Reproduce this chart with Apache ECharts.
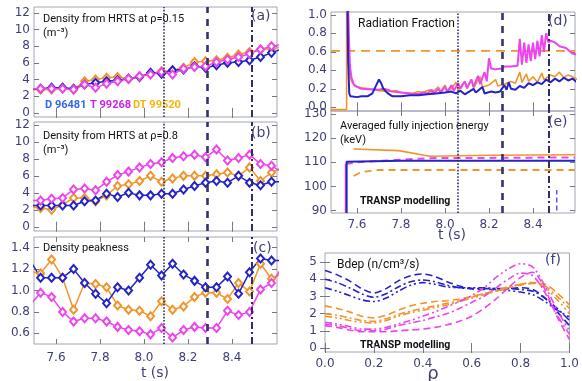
<!DOCTYPE html>
<html>
<head>
<meta charset="utf-8">
<script src="https://cdn.jsdelivr.net/npm/echarts@6/dist/echarts.min.js"></script>
<style>
html, body { margin: 0; padding: 0; background: #fff; }
#chart { width: 582px; height: 381px; }
</style>
</head>
<body>
<div id="chart"></div>
<script>
// time base of the HRTS profiles (s); first and last points sit just outside the frame
const tHrts = [7.48, 7.53, 7.58, 7.63, 7.68, 7.73, 7.78, 7.83, 7.88, 7.93, 7.98, 8.03,
  8.08, 8.13, 8.18, 8.23, 8.28, 8.33, 8.38, 8.43, 8.48, 8.53, 8.58, 8.63];

// (a) density at rho=0.15
const dA = [2.85, 2.9, 3.0, 3.0, 2.9, 3.4, 3.6, 3.8, 3.9, 4.1, 4.3, 4.8, 4.7, 5.1, 5.2, 5.6, 5.4, 5.7, 6.0, 6.1, 6.3, 6.7, 7.2, 7.7];
const tA = [2.9, 2.9, 2.9, 2.9, 2.8, 3.4, 3.0, 3.5, 3.8, 4.1, 4.4, 4.6, 4.9, 4.6, 5.3, 5.5, 5.6, 6.1, 6.4, 6.7, 7.1, 7.6, 8.0, 8.2];
const dtA = [2.8, 2.8, 2.8, 3.0, 2.8, 3.8, 4.0, 4.2, 4.3, 4.1, 4.4, 4.7, 5.0, 5.1, 5.4, 6.1, 6.2, 6.3, 6.6, 7.0, 7.3, 7.6, 7.7, 7.9];

// (b) density at rho=0.8
const dB = [2.5, 2.5, 2.5, 2.5, 2.5, 3.0, 3.1, 3.9, 3.5, 4.0, 3.7, 3.7, 3.9, 3.9, 4.4, 4.8, 5.2, 5.4, 5.2, 6.0, 5.2, 4.9, 5.3, 5.3];
const tB = [3.1, 3.1, 3.3, 3.4, 4.4, 4.5, 4.3, 5.3, 6.1, 6.5, 7.0, 7.4, 7.6, 8.1, 8.3, 8.5, 8.2, 9.1, 7.8, 8.1, 8.5, 7.4, 7.2, 6.4];
const dtB = [2.4, 2.2, 2.0, 2.6, 3.4, 3.4, 3.0, 3.7, 4.8, 5.0, 5.4, 6.0, 5.3, 5.7, 6.0, 6.0, 6.0, 6.2, 6.4, 6.0, 7.0, 5.4, 6.4, 7.0];

// (c) density peakness
const dC = [1.29, 1.12, 1.12, 1.12, 1.20, 1.07, 0.97, 0.88, 1.03, 1.00, 1.12, 1.24, 1.14, 1.25, 1.15, 1.09, 1.03, 1.03, 1.13, 0.97, 1.17, 1.30, 1.28, 1.28];
const tC = [0.86, 0.98, 0.94, 0.80, 0.71, 0.74, 0.74, 0.71, 0.66, 0.63, 0.62, 0.59, 0.65, 0.56, 0.63, 0.66, 0.65, 0.65, 0.81, 0.77, 0.80, 1.01, 1.07, 1.22];
const dtC = [1.18, 1.16, 1.29, 1.12, 0.82, 1.07, 1.06, 1.03, 0.86, 0.82, 0.81, 0.76, 0.90, 0.82, 0.85, 0.94, 0.98, 0.98, 0.92, 1.07, 0.99, 1.25, 1.11, 1.16];

// (d) radiation fraction traces [t, value]
const radD = [[7.557,1.1],[7.560,0.5],[7.565,0.15],[7.57,0.12],[7.60,0.11],[7.62,0.12],[7.65,0.12],[7.67,0.15],[7.69,0.25],[7.70,0.30],[7.71,0.26],[7.72,0.20],[7.74,0.15],[7.76,0.12],[7.80,0.12],[7.84,0.13],[7.88,0.13],[7.92,0.14],[7.96,0.15],[8.00,0.16],[8.03,0.17],[8.05,0.15],[8.07,0.18],[8.09,0.14],[8.11,0.17],[8.13,0.20],[8.14,0.16],[8.17,0.22],[8.18,0.15],[8.21,0.17],[8.23,0.16],[8.25,0.17],[8.27,0.24],[8.28,0.19],[8.29,0.27],[8.30,0.20],[8.32,0.19],[8.34,0.23],[8.36,0.21],[8.38,0.26],[8.40,0.24],[8.42,0.27],[8.44,0.25],[8.46,0.30],[8.48,0.27],[8.50,0.31],[8.52,0.28],[8.54,0.32],[8.56,0.29],[8.58,0.31],[8.60,0.27]];
const radT = [[7.560,1.10],[7.563,0.80],[7.568,0.45],[7.575,0.32],[7.585,0.25],[7.60,0.22],[7.62,0.20],[7.65,0.195],[7.70,0.19],[7.72,0.20],[7.74,0.19],[7.76,0.17],[7.80,0.16],[7.84,0.15],[7.88,0.145],[7.90,0.16],[7.92,0.15],[7.94,0.19],[7.95,0.15],[7.97,0.20],[7.98,0.16],[8.00,0.22],[8.01,0.17],[8.03,0.24],[8.04,0.18],[8.06,0.26],[8.07,0.20],[8.09,0.28],[8.10,0.21],[8.12,0.30],[8.13,0.22],[8.15,0.34],[8.16,0.25],[8.18,0.38],[8.19,0.28],[8.20,0.53],[8.21,0.42],[8.23,0.41],[8.26,0.42],[8.27,0.44],[8.30,0.44],[8.33,0.45],[8.34,0.74],[8.35,0.46],[8.36,0.70],[8.37,0.48],[8.38,0.68],[8.39,0.50],[8.40,0.70],[8.41,0.52],[8.42,0.72],[8.43,0.55],[8.44,0.78],[8.45,0.60],[8.46,0.80],[8.47,0.70],[8.48,0.72],[8.50,0.70],[8.52,0.66],[8.55,0.64],[8.58,0.58],[8.60,0.57]];
const radDT = [[7.48,-0.025],[7.553,-0.025],[7.553,1.1],[7.558,0.6],[7.565,0.38],[7.575,0.28],[7.59,0.23],[7.62,0.21],[7.66,0.20],[7.70,0.18],[7.75,0.17],[7.78,0.18],[7.80,0.16],[7.85,0.15],[7.88,0.17],[7.90,0.16],[7.93,0.19],[7.94,0.16],[7.97,0.22],[7.98,0.17],[8.00,0.24],[8.01,0.18],[8.03,0.20],[8.05,0.27],[8.06,0.19],[8.09,0.28],[8.10,0.20],[8.12,0.30],[8.13,0.21],[8.16,0.33],[8.17,0.22],[8.20,0.24],[8.23,0.30],[8.24,0.23],[8.27,0.25],[8.30,0.28],[8.32,0.26],[8.34,0.38],[8.35,0.27],[8.37,0.36],[8.38,0.28],[8.40,0.33],[8.42,0.27],[8.44,0.37],[8.45,0.30],[8.48,0.35],[8.50,0.33],[8.52,0.38],[8.54,0.32],[8.56,0.35],[8.58,0.33],[8.60,0.30]];
const radLimit = [[7.482,0.61],[8.591,0.61]];

// (e) averaged full injection energy (keV)
const eD = [[7.553,89],[7.553,110.2],[7.8,110.6],[8.591,110.6]];
const eTrise = [[7.549,89],[7.549,109.3]];
const eT = [[7.549,109.3],[7.6,110],[7.75,110.8],[7.93,111.7],[8.2,111.8],[8.591,112]];
const eDT = [[7.584,115.5],[7.79,114.8],[7.93,112.5],[8.2,112.9],[8.591,113.1]];
const eDTmod = [[7.585,104.3],[7.62,106.0],[7.7,106.8],[8.591,106.8]];
const eMark = [[8.508,90],[8.508,98.5]];

// (f) beam deposition profiles vs rho
const rho = [0, 0.05, 0.1, 0.15, 0.2, 0.25, 0.3, 0.35, 0.4, 0.45, 0.5, 0.55, 0.6, 0.65, 0.7, 0.75, 0.8, 0.85, 0.9, 0.95, 1.0];
const fD1 = [4.5, 4.25, 3.9, 3.45, 3.2, 3.45, 3.9, 4.2, 4.3, 4.15, 3.85, 3.6, 3.45, 3.4, 3.4, 3.45, 3.5, 3.4, 2.9, 2.1, 1.3];
const fD2 = [4.0, 3.8, 3.5, 3.15, 2.95, 3.15, 3.55, 3.85, 3.95, 3.85, 3.65, 3.5, 3.45, 3.45, 3.45, 3.45, 3.4, 3.3, 2.9, 2.3, 1.6];
const fD3 = [3.5, 3.3, 3.05, 2.8, 2.7, 2.9, 3.3, 3.65, 3.8, 3.7, 3.55, 3.5, 3.5, 3.5, 3.45, 3.35, 3.25, 3.1, 2.7, 2.2, 1.8];
const fDT1 = [2.45, 2.3, 2.1, 1.85, 1.75, 1.9, 2.2, 2.45, 2.6, 2.7, 2.75, 2.85, 3.0, 3.15, 3.3, 3.5, 3.65, 3.75, 3.7, 3.2, 2.5];
const fDT2 = [2.0, 1.9, 1.75, 1.6, 1.55, 1.7, 1.95, 2.15, 2.3, 2.45, 2.6, 2.75, 2.95, 3.15, 3.35, 3.55, 3.7, 3.8, 3.6, 3.0, 2.3];
const fDT3 = [1.85, 1.75, 1.6, 1.5, 1.45, 1.6, 1.85, 2.05, 2.2, 2.35, 2.5, 2.7, 2.9, 3.1, 3.3, 3.5, 3.7, 3.8, 3.5, 2.8, 2.0];
const fT1 = [1.3, 1.2, 1.05, 0.95, 0.95, 0.95, 1.0, 1.05, 1.1, 1.2, 1.35, 1.55, 1.85, 2.3, 2.85, 3.5, 4.1, 4.4, 3.4, 1.8, 0.5];
const fT2 = [1.4, 1.3, 1.15, 1.0, 1.0, 1.1, 1.3, 1.45, 1.6, 1.8, 2.0, 2.3, 2.65, 3.0, 3.5, 4.0, 4.35, 4.2, 3.2, 1.9, 0.8];
const fT3 = [1.5, 1.4, 1.25, 1.1, 1.1, 1.2, 1.4, 1.6, 1.85, 2.1, 2.4, 2.7, 3.05, 3.5, 4.1, 4.6, 4.9, 4.7, 3.6, 2.2, 1.0];

// vertical time markers
const markLeft = [8.09, 8.29, 8.495];
const markRight = [8.064, 8.264, 8.468];

// tick labels
const tTicks = [7.6, 7.8, 8.0, 8.2, 8.4];
const rhoTicks = [0, 0.2, 0.4, 0.6, 0.8, 1.0];
const nTicks = [0, 2, 4, 6, 8, 10, 12];
const peakTicks = [0.6, 0.8, 1.0, 1.2, 1.4];
const radTicks = [0, 0.2, 0.4, 0.6, 0.8, 1.0];
const eTicks = [90, 100, 110, 120, 130];
const bdepTicks = [0, 1, 2, 3, 4, 5];

const BLUE = '#2323c8';
const MAGENTA = '#ee44ee';
const ORANGE = '#f0952a';
const NAVY = '#3f3f78';
const AXISFONT = 'DejaVu Sans';

const chart = echarts.init(document.getElementById('chart'));

const grids = [
  { left: 34, top: 7, width: 243, height: 110 },
  { left: 34, top: 122, width: 243, height: 109 },
  { left: 34, top: 237, width: 243, height: 107 },
  { left: 331, top: 12, width: 244, height: 99 },
  { left: 331, top: 111, width: 244, height: 102 },
  { left: 325, top: 253, width: 245, height: 99 }
].map(g => Object.assign({ show: true, borderColor: '#a4a4b4', borderWidth: 1, backgroundColor: 'transparent' }, g));

const xAxes = [];
const yAxes = [];

const axisPair = (list, gi, min, max, ticks, labels, fmt, margin, isX) => {
  const base = {
    type: 'value', gridIndex: gi, min: min, max: max, scale: true,
    axisLine: { show: false }, splitLine: { show: false }
  };
  list.push(Object.assign({}, base, {
    position: isX ? 'bottom' : 'left',
    axisTick: { show: true, inside: true, length: 5, customValues: ticks, lineStyle: { color: '#77778a' } },
    axisLabel: { show: labels, customValues: ticks, formatter: fmt, color: NAVY, fontSize: 12, fontFamily: AXISFONT, margin: margin }
  }));
  list.push(Object.assign({}, base, {
    position: isX ? 'top' : 'right',
    axisTick: { show: true, inside: true, length: 5, customValues: ticks, lineStyle: { color: '#77778a' } },
    axisLabel: { show: false }
  }));
};

const f1 = v => v.toFixed(1);
const f0 = v => String(v);

axisPair(xAxes, 0, 7.5, 8.605, tTicks, false, f1, 8, true);
axisPair(xAxes, 1, 7.5, 8.605, tTicks, false, f1, 8, true);
axisPair(xAxes, 2, 7.5, 8.605, tTicks, true, f1, 8, true);
axisPair(xAxes, 3, 7.482, 8.591, tTicks, false, f1, 8, true);
axisPair(xAxes, 4, 7.482, 8.591, tTicks, true, f1, 6, true);
axisPair(xAxes, 5, 0, 1, rhoTicks, true, f1, 6, true);

axisPair(yAxes, 0, -0.5, 12.7, nTicks, true, f0, 4, false);
axisPair(yAxes, 1, -0.5, 12.35, nTicks, true, f0, 4, false);
axisPair(yAxes, 2, 0.5, 1.5, peakTicks, true, f1, 4, false);
axisPair(yAxes, 3, -0.04, 1.03, radTicks, true, f1, 4, false);
axisPair(yAxes, 4, 89, 131.2, eTicks, true, f0, 4, false);
axisPair(yAxes, 5, -0.23, 5.52, bdepTicks, true, f0, 8, false);

const markStyles = [
  { type: 'dotted', width: 1.6, color: '#2e2e66' },
  { type: [7, 6], width: 2.6, color: '#34346e' },
  { type: [7, 3, 2, 3], width: 2, color: '#2e2e66' }
];
const vMarks = times => ({
  silent: true, symbol: ['none', 'none'], label: { show: false },
  data: times.map((t, i) => ({ xAxis: t, lineStyle: markStyles[i] }))
});

const series = [];
const hrts = (gi, vals, color, withMarks) => {
  const s = {
    type: 'line', xAxisIndex: 2 * gi, yAxisIndex: 2 * gi,
    data: tHrts.map((t, i) => [t, vals[i]]),
    symbol: 'emptyDiamond', symbolSize: [7, 8], showSymbol: true,
    lineStyle: { color: color, width: 1.5 },
    itemStyle: { color: color, borderWidth: 1.3 },
    clip: true, silent: true, animation: false, z: 3
  };
  if (withMarks) s.markLine = vMarks(markLeft);
  series.push(s);
};
[[0, dA, tA, dtA], [1, dB, tB, dtB], [2, dC, tC, dtC]].forEach(p => {
  hrts(p[0], p[3], ORANGE, false);
  hrts(p[0], p[1], BLUE, true);
  hrts(p[0], p[2], MAGENTA, false);
});

const trace = (gi, data, color, width, type, extra) => {
  series.push(Object.assign({
    type: 'line', xAxisIndex: 2 * gi, yAxisIndex: 2 * gi, data: data,
    symbol: 'none', lineStyle: { color: color, width: width, type: type || 'solid' },
    clip: true, silent: true, animation: false
  }, extra || {}));
};

// (d)
trace(3, radLimit, ORANGE, 1.6, [9, 6]);
trace(3, radDT, ORANGE, 1.6);
trace(3, radT, MAGENTA, 2);
trace(3, radD, BLUE, 2, 'solid', { markLine: vMarks(markRight) });

// (e)
trace(4, eDT, ORANGE, 1.6);
trace(4, eDTmod, ORANGE, 1.8, [7, 5]);
trace(4, eTrise, MAGENTA, 2);
trace(4, eT, MAGENTA, 2, [7, 5]);
trace(4, eD, BLUE, 2, 'solid', { markLine: vMarks(markRight) });
trace(4, eMark, '#5555ee', 1.5, [5, 3]);

// (f)
const dash = [7, 4];
const dashDot = [7, 3, 2, 3];
const dashDotDot = [7, 3, 2, 3, 2, 3];
[[fD1, BLUE, dash], [fD2, BLUE, dashDot], [fD3, BLUE, dashDotDot],
 [fDT1, ORANGE, dash], [fDT2, ORANGE, dashDot], [fDT3, ORANGE, dashDotDot],
 [fT1, MAGENTA, dash], [fT2, MAGENTA, dashDot], [fT3, MAGENTA, dashDotDot]].forEach(c => {
  trace(5, rho.map((r, i) => [r, c[0][i]]), c[1], 1.6, c[2], { smooth: 0.3 });
});

const txt = (x, y, text, font, fill, align) => ({
  type: 'text', x: x, y: y, silent: true,
  style: { text: text, font: font, fill: fill || '#111', textAlign: align || 'left', textVerticalAlign: 'middle' }
});
const titleFont = '11px Roboto';
const boldFont = 'bold 10.5px Roboto';
const panelFont = '14px ' + AXISFONT;

const graphics = [
  txt(43, 19, 'Density from HRTS at ρ=0.15', titleFont),
  txt(43, 33, '(m⁻³)', titleFont),
  txt(43, 136, 'Density from HRTS at ρ=0.8', titleFont),
  txt(43, 150, '(m⁻³)', titleFont),
  txt(43, 248, 'Density peakness', titleFont),
  txt(358, 24, 'Radiation Fraction', '12px Roboto'),
  txt(340, 126, 'Averaged fully injection energy', titleFont),
  txt(340, 140, '(keV)', titleFont),
  txt(360, 201, 'TRANSP modelling', boldFont),
  txt(337, 265, 'Bdep (n/cm³/s)', '12px Roboto'),
  txt(360, 345, 'TRANSP modelling', boldFont),
  txt(45, 105, 'D 96481', 'bold 11px Roboto', '#3366ee'),
  txt(90, 105, 'T 99268', 'bold 11px Roboto', '#cc22ee'),
  txt(133, 105, 'DT 99520', 'bold 11px Roboto', '#f5b50a'),
  txt(251, 16, '(a)', panelFont, NAVY),
  txt(251, 133, '(b)', panelFont, NAVY),
  txt(253, 248, '(c)', panelFont, NAVY),
  txt(548, 21, '(d)', panelFont, NAVY),
  txt(548, 122, '(e)', panelFont, NAVY),
  txt(545, 260, '(f)', panelFont, NAVY),
  txt(155, 373, 't (s)', '14px ' + AXISFONT, NAVY, 'center'),
  txt(452, 235, 't (s)', '14px ' + AXISFONT, NAVY, 'center'),
  txt(433, 374, 'ρ', '18px ' + AXISFONT, NAVY, 'center')
];

chart.setOption({
  animation: false,
  backgroundColor: '#ffffff',
  grid: grids,
  xAxis: xAxes,
  yAxis: yAxes,
  series: series,
  graphic: graphics
});
</script>
</body>
</html>
